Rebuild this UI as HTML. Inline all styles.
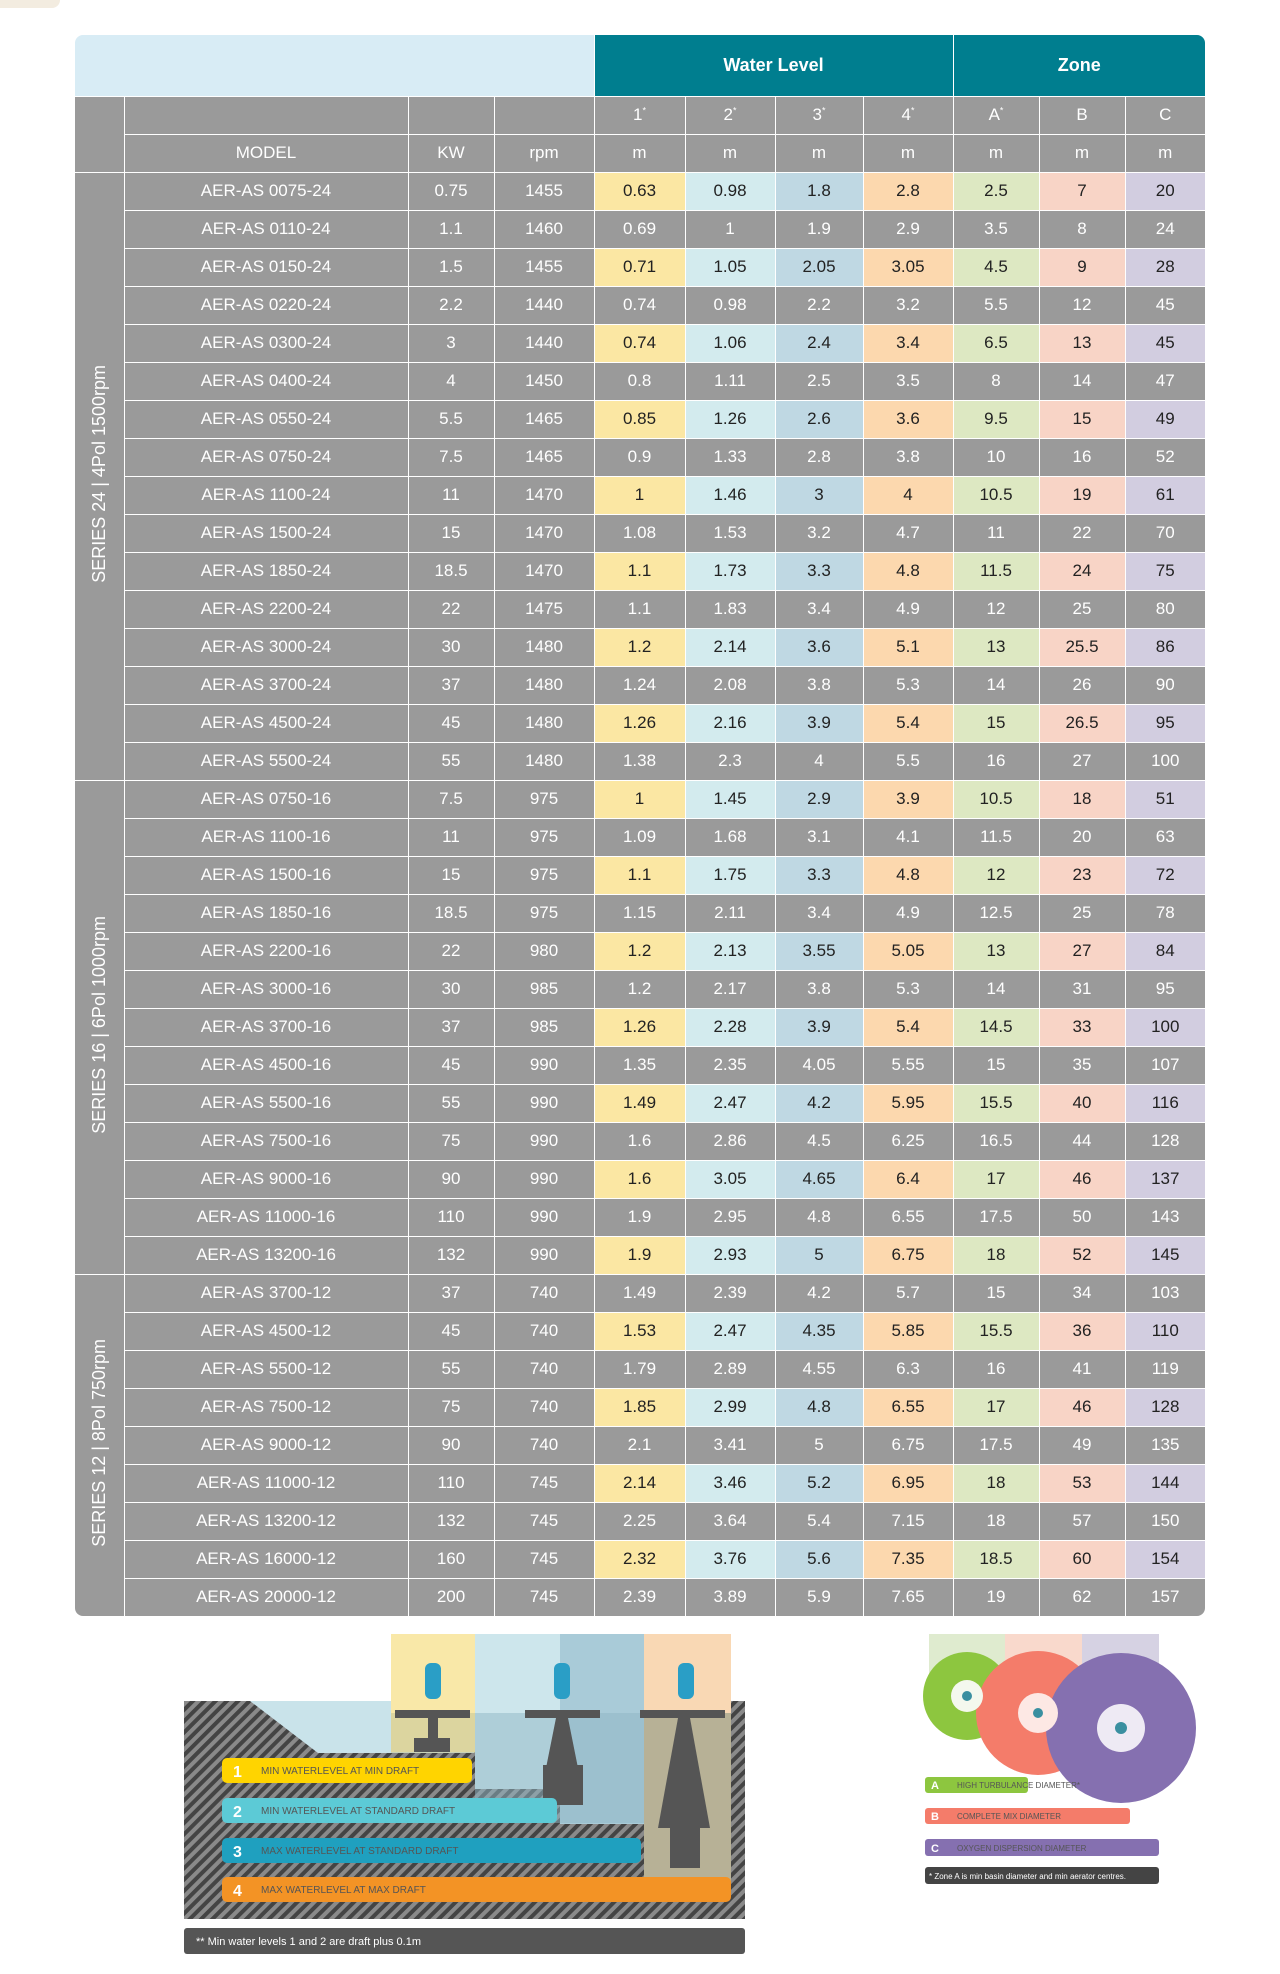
<!DOCTYPE html>
<html><head><meta charset="utf-8">
<style>
body{margin:0;background:#fff;width:1280px;height:1974px;position:relative;overflow:hidden;font-family:"Liberation Sans",sans-serif;}
.wrap{position:absolute;left:75px;top:35px;width:1130px;border-radius:8px;overflow:hidden;}
table{border-collapse:collapse;table-layout:fixed;width:1130px;}
td{border:1.5px solid #fff;background:#9a9a9a;color:#fff;text-align:center;font-size:17px;padding:0;height:37px;white-space:nowrap;}
tr.h1 td{height:60.5px;border-top:none;}
td.lb{background:#d8ecf5;border:none;}
td.tl{background:#007e8f;font-weight:bold;font-size:18px;border-top:none;}
td.ser{border-left:none;border-bottom:none;}
.rot{writing-mode:vertical-rl;transform:rotate(180deg);white-space:nowrap;font-size:18px;display:inline-block;}
tr.c td.y{background:#fbe7a3;color:#222}
tr.c td.cy{background:#d3ebee;color:#222}
tr.c td.b{background:#bfd8e3;color:#222}
tr.c td.p{background:#fcd8ae;color:#222}
tr.c td.g{background:#dde8c2;color:#222}
tr.c td.k{background:#f8d4c6;color:#222}
tr.c td.l{background:#d2cde0;color:#222}
td:last-child{border-right:none}
tr:last-child td{border-bottom:none}
</style></head><body>
<div style="position:absolute;left:0;top:0;width:60px;height:8px;background:#f3ece0;border-radius:0 0 40px 0"></div>
<div class="wrap">
<table>
<colgroup><col style="width:49px"><col style="width:284px"><col style="width:86px"><col style="width:100px"><col style="width:91px"><col style="width:90px"><col style="width:88px"><col style="width:90px"><col style="width:86px"><col style="width:86px"><col style="width:80px"></colgroup>
<tr class="h1"><td class="lb" colspan="4"></td><td class="tl" colspan="4">Water Level</td><td class="tl" colspan="3">Zone</td></tr>
<tr><td style="border-left:none;border-bottom:none"></td><td></td><td></td><td></td><td>1<sup style="font-size:9px">*</sup></td><td>2<sup style="font-size:9px">*</sup></td><td>3<sup style="font-size:9px">*</sup></td><td>4<sup style="font-size:9px">*</sup></td><td>A<sup style="font-size:9px">*</sup></td><td>B</td><td>C</td></tr>
<tr><td style="border-left:none;border-top:none;border-bottom:none"></td><td>MODEL</td><td>KW</td><td>rpm</td><td>m</td><td>m</td><td>m</td><td>m</td><td>m</td><td>m</td><td>m</td></tr>
<tr class="c"><td class="ser" rowspan="16"><span class="rot">SERIES 24 | 4Pol 1500rpm</span></td><td>AER-AS 0075-24</td><td>0.75</td><td>1455</td><td class="y">0.63</td><td class="cy">0.98</td><td class="b">1.8</td><td class="p">2.8</td><td class="g">2.5</td><td class="k">7</td><td class="l">20</td></tr>
<tr><td>AER-AS 0110-24</td><td>1.1</td><td>1460</td><td>0.69</td><td>1</td><td>1.9</td><td>2.9</td><td>3.5</td><td>8</td><td>24</td></tr>
<tr class="c"><td>AER-AS 0150-24</td><td>1.5</td><td>1455</td><td class="y">0.71</td><td class="cy">1.05</td><td class="b">2.05</td><td class="p">3.05</td><td class="g">4.5</td><td class="k">9</td><td class="l">28</td></tr>
<tr><td>AER-AS 0220-24</td><td>2.2</td><td>1440</td><td>0.74</td><td>0.98</td><td>2.2</td><td>3.2</td><td>5.5</td><td>12</td><td>45</td></tr>
<tr class="c"><td>AER-AS 0300-24</td><td>3</td><td>1440</td><td class="y">0.74</td><td class="cy">1.06</td><td class="b">2.4</td><td class="p">3.4</td><td class="g">6.5</td><td class="k">13</td><td class="l">45</td></tr>
<tr><td>AER-AS 0400-24</td><td>4</td><td>1450</td><td>0.8</td><td>1.11</td><td>2.5</td><td>3.5</td><td>8</td><td>14</td><td>47</td></tr>
<tr class="c"><td>AER-AS 0550-24</td><td>5.5</td><td>1465</td><td class="y">0.85</td><td class="cy">1.26</td><td class="b">2.6</td><td class="p">3.6</td><td class="g">9.5</td><td class="k">15</td><td class="l">49</td></tr>
<tr><td>AER-AS 0750-24</td><td>7.5</td><td>1465</td><td>0.9</td><td>1.33</td><td>2.8</td><td>3.8</td><td>10</td><td>16</td><td>52</td></tr>
<tr class="c"><td>AER-AS 1100-24</td><td>11</td><td>1470</td><td class="y">1</td><td class="cy">1.46</td><td class="b">3</td><td class="p">4</td><td class="g">10.5</td><td class="k">19</td><td class="l">61</td></tr>
<tr><td>AER-AS 1500-24</td><td>15</td><td>1470</td><td>1.08</td><td>1.53</td><td>3.2</td><td>4.7</td><td>11</td><td>22</td><td>70</td></tr>
<tr class="c"><td>AER-AS 1850-24</td><td>18.5</td><td>1470</td><td class="y">1.1</td><td class="cy">1.73</td><td class="b">3.3</td><td class="p">4.8</td><td class="g">11.5</td><td class="k">24</td><td class="l">75</td></tr>
<tr><td>AER-AS 2200-24</td><td>22</td><td>1475</td><td>1.1</td><td>1.83</td><td>3.4</td><td>4.9</td><td>12</td><td>25</td><td>80</td></tr>
<tr class="c"><td>AER-AS 3000-24</td><td>30</td><td>1480</td><td class="y">1.2</td><td class="cy">2.14</td><td class="b">3.6</td><td class="p">5.1</td><td class="g">13</td><td class="k">25.5</td><td class="l">86</td></tr>
<tr><td>AER-AS 3700-24</td><td>37</td><td>1480</td><td>1.24</td><td>2.08</td><td>3.8</td><td>5.3</td><td>14</td><td>26</td><td>90</td></tr>
<tr class="c"><td>AER-AS 4500-24</td><td>45</td><td>1480</td><td class="y">1.26</td><td class="cy">2.16</td><td class="b">3.9</td><td class="p">5.4</td><td class="g">15</td><td class="k">26.5</td><td class="l">95</td></tr>
<tr><td>AER-AS 5500-24</td><td>55</td><td>1480</td><td>1.38</td><td>2.3</td><td>4</td><td>5.5</td><td>16</td><td>27</td><td>100</td></tr>
<tr class="c"><td class="ser" rowspan="13" style="border-top:1.5px solid #fff"><span class="rot">SERIES 16 | 6Pol 1000rpm</span></td><td>AER-AS 0750-16</td><td>7.5</td><td>975</td><td class="y">1</td><td class="cy">1.45</td><td class="b">2.9</td><td class="p">3.9</td><td class="g">10.5</td><td class="k">18</td><td class="l">51</td></tr>
<tr><td>AER-AS 1100-16</td><td>11</td><td>975</td><td>1.09</td><td>1.68</td><td>3.1</td><td>4.1</td><td>11.5</td><td>20</td><td>63</td></tr>
<tr class="c"><td>AER-AS 1500-16</td><td>15</td><td>975</td><td class="y">1.1</td><td class="cy">1.75</td><td class="b">3.3</td><td class="p">4.8</td><td class="g">12</td><td class="k">23</td><td class="l">72</td></tr>
<tr><td>AER-AS 1850-16</td><td>18.5</td><td>975</td><td>1.15</td><td>2.11</td><td>3.4</td><td>4.9</td><td>12.5</td><td>25</td><td>78</td></tr>
<tr class="c"><td>AER-AS 2200-16</td><td>22</td><td>980</td><td class="y">1.2</td><td class="cy">2.13</td><td class="b">3.55</td><td class="p">5.05</td><td class="g">13</td><td class="k">27</td><td class="l">84</td></tr>
<tr><td>AER-AS 3000-16</td><td>30</td><td>985</td><td>1.2</td><td>2.17</td><td>3.8</td><td>5.3</td><td>14</td><td>31</td><td>95</td></tr>
<tr class="c"><td>AER-AS 3700-16</td><td>37</td><td>985</td><td class="y">1.26</td><td class="cy">2.28</td><td class="b">3.9</td><td class="p">5.4</td><td class="g">14.5</td><td class="k">33</td><td class="l">100</td></tr>
<tr><td>AER-AS 4500-16</td><td>45</td><td>990</td><td>1.35</td><td>2.35</td><td>4.05</td><td>5.55</td><td>15</td><td>35</td><td>107</td></tr>
<tr class="c"><td>AER-AS 5500-16</td><td>55</td><td>990</td><td class="y">1.49</td><td class="cy">2.47</td><td class="b">4.2</td><td class="p">5.95</td><td class="g">15.5</td><td class="k">40</td><td class="l">116</td></tr>
<tr><td>AER-AS 7500-16</td><td>75</td><td>990</td><td>1.6</td><td>2.86</td><td>4.5</td><td>6.25</td><td>16.5</td><td>44</td><td>128</td></tr>
<tr class="c"><td>AER-AS 9000-16</td><td>90</td><td>990</td><td class="y">1.6</td><td class="cy">3.05</td><td class="b">4.65</td><td class="p">6.4</td><td class="g">17</td><td class="k">46</td><td class="l">137</td></tr>
<tr><td>AER-AS 11000-16</td><td>110</td><td>990</td><td>1.9</td><td>2.95</td><td>4.8</td><td>6.55</td><td>17.5</td><td>50</td><td>143</td></tr>
<tr class="c"><td>AER-AS 13200-16</td><td>132</td><td>990</td><td class="y">1.9</td><td class="cy">2.93</td><td class="b">5</td><td class="p">6.75</td><td class="g">18</td><td class="k">52</td><td class="l">145</td></tr>
<tr><td class="ser" rowspan="9" style="border-top:1.5px solid #fff"><span class="rot">SERIES 12 | 8Pol 750rpm</span></td><td>AER-AS 3700-12</td><td>37</td><td>740</td><td>1.49</td><td>2.39</td><td>4.2</td><td>5.7</td><td>15</td><td>34</td><td>103</td></tr>
<tr class="c"><td>AER-AS 4500-12</td><td>45</td><td>740</td><td class="y">1.53</td><td class="cy">2.47</td><td class="b">4.35</td><td class="p">5.85</td><td class="g">15.5</td><td class="k">36</td><td class="l">110</td></tr>
<tr><td>AER-AS 5500-12</td><td>55</td><td>740</td><td>1.79</td><td>2.89</td><td>4.55</td><td>6.3</td><td>16</td><td>41</td><td>119</td></tr>
<tr class="c"><td>AER-AS 7500-12</td><td>75</td><td>740</td><td class="y">1.85</td><td class="cy">2.99</td><td class="b">4.8</td><td class="p">6.55</td><td class="g">17</td><td class="k">46</td><td class="l">128</td></tr>
<tr><td>AER-AS 9000-12</td><td>90</td><td>740</td><td>2.1</td><td>3.41</td><td>5</td><td>6.75</td><td>17.5</td><td>49</td><td>135</td></tr>
<tr class="c"><td>AER-AS 11000-12</td><td>110</td><td>745</td><td class="y">2.14</td><td class="cy">3.46</td><td class="b">5.2</td><td class="p">6.95</td><td class="g">18</td><td class="k">53</td><td class="l">144</td></tr>
<tr><td>AER-AS 13200-12</td><td>132</td><td>745</td><td>2.25</td><td>3.64</td><td>5.4</td><td>7.15</td><td>18</td><td>57</td><td>150</td></tr>
<tr class="c"><td>AER-AS 16000-12</td><td>160</td><td>745</td><td class="y">2.32</td><td class="cy">3.76</td><td class="b">5.6</td><td class="p">7.35</td><td class="g">18.5</td><td class="k">60</td><td class="l">154</td></tr>
<tr><td>AER-AS 20000-12</td><td>200</td><td>745</td><td>2.39</td><td>3.89</td><td>5.9</td><td>7.65</td><td>19</td><td>62</td><td>157</td></tr>
</table>
</div>

<svg style="position:absolute;left:0;top:0" width="1280" height="1974" font-family="Liberation Sans, sans-serif">
<defs>
<pattern id="h" width="8" height="8" patternUnits="userSpaceOnUse" patternTransform="rotate(45)">
<rect width="8" height="8" fill="#8a8a8a"/><rect width="4" height="8" fill="#444"/></pattern>
</defs>
<g transform="translate(0,13)">
<path d="M184 1688 L745 1688 L745 1906 L184 1906 Z" fill="url(#h)"/>
<path d="M184 1688 L250 1688 L318 1740 L474 1740 L474 1688 Z" fill="#c9e3ea"/>
<rect x="391" y="1621" width="84" height="118" fill="#f9e8a8"/>
<rect x="475" y="1621" width="85" height="155" fill="#cde6ec"/>
<rect x="560" y="1621" width="84" height="190" fill="#a9cbd8"/>
<rect x="644" y="1621" width="87" height="254" fill="#f9d8b4"/>
<rect x="391" y="1700" width="84" height="40" fill="#c8c89a" opacity=".6"/>
<rect x="475" y="1700" width="169" height="110" fill="#8fb6c4" opacity=".5"/>
<rect x="644" y="1700" width="87" height="175" fill="#a6a88e" opacity=".8"/>
<g fill="#555">
<rect x="395" y="1697" width="75" height="8"/><rect x="428" y="1705" width="10" height="25"/><rect x="414" y="1725" width="36" height="14"/>
<rect x="525" y="1697" width="75" height="8"/><path d="M556 1705 h12 l10 50 h-32z"/><rect x="543" y="1752" width="40" height="40"/>
<rect x="640" y="1697" width="85" height="8"/><path d="M678 1705 h12 l20 110 h-52z"/><rect x="670" y="1805" width="30" height="50"/>
</g>
<g fill="#2a9ec6"><rect x="425" y="1650" width="16" height="36" rx="6"/><rect x="554" y="1650" width="16" height="36" rx="6"/><rect x="678" y="1650" width="16" height="36" rx="6"/></g>
<rect x="222" y="1745" width="250" height="25" rx="5" fill="#ffd400"/>
<rect x="222" y="1785" width="335" height="25" rx="5" fill="#5ccad6"/>
<rect x="222" y="1825" width="419" height="25" rx="5" fill="#1fa0bf"/>
<rect x="222" y="1864" width="509" height="25" rx="5" fill="#f39325"/>
<g fill="#fff" font-weight="bold" font-size="16"><text x="233" y="1764">1</text><text x="233" y="1804">2</text><text x="233" y="1844">3</text><text x="233" y="1883">4</text></g>
<g fill="#555" font-size="10"><text x="261" y="1761">MIN WATERLEVEL AT MIN DRAFT</text><text x="261" y="1801">MIN WATERLEVEL AT STANDARD DRAFT</text><text x="261" y="1841">MAX WATERLEVEL AT STANDARD DRAFT</text><text x="261" y="1880">MAX WATERLEVEL AT MAX DRAFT</text></g>
<rect x="184" y="1915" width="561" height="26" rx="3" fill="#555"/>
<text x="196" y="1932" fill="#fff" font-size="11">** Min water levels 1 and 2 are draft plus 0.1m</text>
<rect x="929" y="1621" width="76" height="60" fill="#dfebcf"/>
<rect x="1005" y="1621" width="77" height="60" fill="#f9d9cc"/>
<rect x="1082" y="1621" width="77" height="60" fill="#d6d2e3"/>
<circle cx="967" cy="1683" r="44" fill="#8dc63f"/>
<circle cx="1038" cy="1700" r="62" fill="#f47c6a"/>
<circle cx="1121" cy="1715" r="75" fill="#8570b0"/>
<circle cx="967" cy="1683" r="16" fill="#f4f8ee"/><circle cx="1038" cy="1700" r="20" fill="#fde8e4"/><circle cx="1121" cy="1715" r="24" fill="#eeeaf4"/>
<circle cx="1121" cy="1715" r="6" fill="#3a8fa0"/><circle cx="1038" cy="1700" r="5" fill="#3a8fa0"/><circle cx="967" cy="1683" r="5" fill="#3a8fa0"/>
<rect x="925" y="1764" width="103" height="16" rx="3" fill="#8dc63f"/>
<rect x="925" y="1795" width="205" height="16" rx="3" fill="#f47c6a"/>
<rect x="925" y="1826" width="234" height="17" rx="3" fill="#8570b0"/>
<rect x="925" y="1854" width="234" height="17" rx="3" fill="#444"/>
<g font-size="8" fill="#555"><text x="957" y="1775">HIGH TURBULANCE DIAMETER*</text><text x="957" y="1806">COMPLETE MIX DIAMETER</text><text x="957" y="1838">OXYGEN DISPERSION DIAMETER</text></g>
<g font-size="11" font-weight="bold" fill="#fff"><text x="931" y="1776">A</text><text x="931" y="1807">B</text><text x="931" y="1839">C</text></g>
<text x="929" y="1866" font-size="8" fill="#fff">* Zone A is min basin diameter and min aerator centres.</text>
</g>
</svg>
</body></html>
